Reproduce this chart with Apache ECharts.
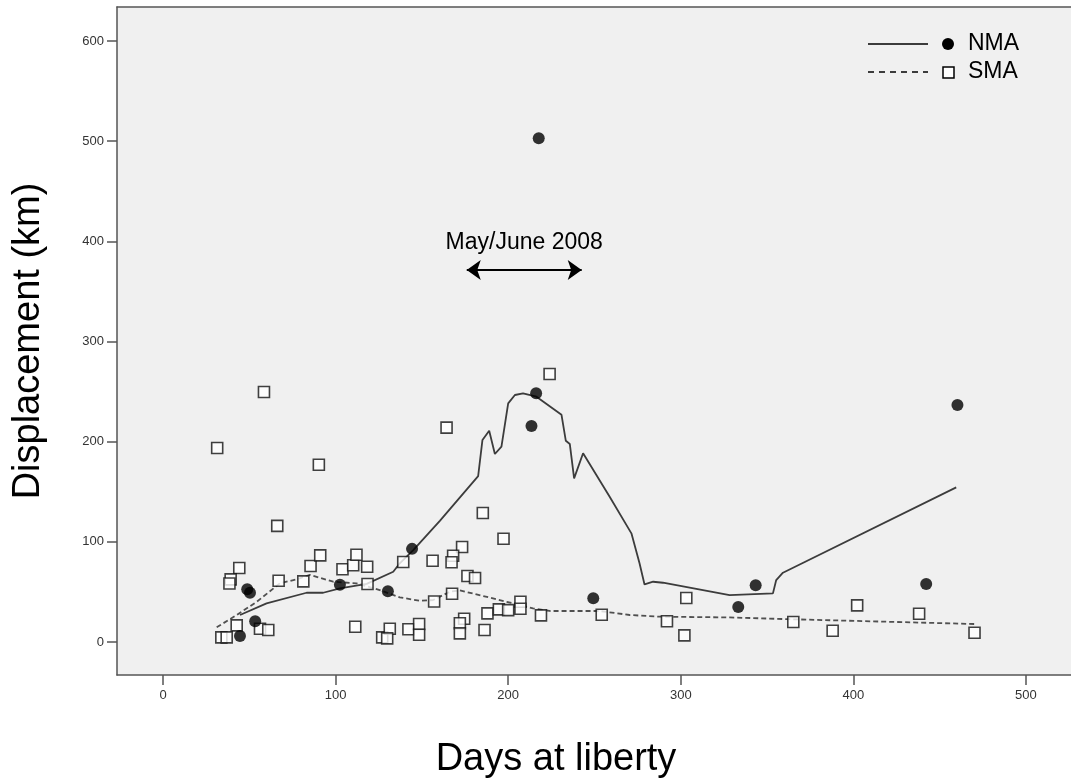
<!DOCTYPE html>
<html>
<head>
<meta charset="utf-8">
<script src="https://cdn.jsdelivr.net/npm/echarts@6/dist/echarts.min.js"></script>
<style>
html,body{margin:0;padding:0;background:#fff;}
#chart{width:1071px;height:778px;}
</style>
</head>
<body>
<div id="chart"></div>
<script>
// ---- data ----
var xTicks = [0, 100, 200, 300, 400, 500];
var yTicks = [0, 100, 200, 300, 400, 500, 600];

// NMA observations (filled circles)
var nmaX = [44.6, 48.8, 50.4, 53.4, 102.5, 130.3, 144.3, 213.5, 216.2, 217.7, 249.3, 333.3, 343.4, 442.2, 460.3];
var nmaY = [6, 52.6, 49.2, 20.7, 57.2, 50.6, 93, 215.6, 248.3, 503, 43.7, 34.9, 56.6, 57.9, 236.6];

// SMA observations (open squares)
var smaX = [31.4, 58.5, 90.3, 66.2, 44.2, 39.2, 38.5, 67, 81.3, 85.5, 91.1, 104, 110.2, 112.1, 118.3, 118.5,
            139.2, 156.2, 157.1, 42.7, 33.8, 36.9, 56.2, 61, 111.4, 127, 131.4, 129.9, 142.2, 148.4, 148.4,
            164.3, 185.3, 197.3, 173.3, 168.1, 167.2, 176.4, 180.8, 167.5, 174.5, 172, 172, 186.3, 188,
            194.6, 200, 207.1, 207.1, 219, 254.2, 224, 303.2, 292, 302.1, 365.2, 388, 402.2, 438.1, 470.2];
var smaY = [193.7, 249.6, 177, 116, 73.9, 62.6, 58.5, 61.2, 60.6, 75.9, 86.5, 72.6, 76.6, 87.2, 75.2, 57.9,
            79.9, 81.2, 40.5, 16.6, 4.7, 4.7, 13.3, 12, 15.3, 4.7, 13.3, 3.7, 12.7, 18, 7.3,
            214, 128.8, 103.1, 94.8, 86.2, 79.6, 65.9, 63.9, 48.2, 23.3, 18.7, 8.7, 12, 28.6,
            32.6, 31.9, 40.2, 33.3, 26.6, 27.3, 267.5, 43.9, 20.7, 6.7, 20, 11.3, 36.6, 28.3, 9.3];

// NMA smoothed fit (solid line)
var nmaFitX = [44.6, 60, 83.2, 92.8, 102.5, 118, 133.4, 137.2, 145, 160.4, 182.6, 185.1, 189, 192.3, 196.1,
               200, 203.9, 208.6, 216.4, 230.9, 233.4, 235.7, 238.2, 243.4, 258.8, 271.4, 276.1, 279,
               284, 289.7, 328.3, 353.4, 355.3, 359.2, 459.6];
var nmaFitY = [27, 38.6, 49.2, 49.2, 53.6, 58, 70.2, 78.6, 91.8, 121, 165.7, 201.7, 210.9, 187.7, 195,
               238.3, 246.6, 248.3, 244.9, 226.8, 200.9, 197.7, 163.4, 188.4, 145, 108.5, 78.6, 57.5,
               60.2, 59.2, 46.9, 48.6, 61.9, 69.2, 154.4];

// SMA smoothed fit (dashed line)
var smaFitX = [31.1, 42.7, 54.3, 67.7, 77.4, 85.1, 98.6, 112.1, 125.6, 137.2, 148.8, 156.5, 166.2, 172,
               195.1, 214.4, 224.1, 253, 270.4, 287.8, 328.3, 365, 470.2];
var smaFitY = [14.7, 27, 40.2, 58.6, 62.6, 67, 60.2, 58.6, 51.9, 44.6, 41.2, 41.9, 50.2, 51.6,
               41.9, 33.6, 31, 31, 27, 25.3, 24.6, 22.7, 18];

// annotation
var annotText = 'May/June 2008';
var annotX = [176, 242.6];
var annotY = 371.4;

function zip(a, b) { return a.map(function (v, i) { return [v, b[i]]; }); }

var chart = echarts.init(document.getElementById('chart'), null, {renderer: 'canvas'});
var FONT = 'Liberation Sans, Arial, sans-serif';
var NARROW = 'Liberation Sans Narrow, Arial Narrow, Liberation Sans, sans-serif';
var XMIN = -26.65, XMAX = 526.1, YMIN = -32.9, YMAX = 633.9;
var AX = {color: '#555555', width: 1.5};

chart.setOption({
  animation: false,
  backgroundColor: '#ffffff',
  grid: {
    left: 117, right: 0, top: 7, bottom: 103, outerBoundsMode: 'none', containLabel: false,
    show: true, backgroundColor: '#f0f0f0', borderWidth: 0
  },
  xAxis: [{
    type: 'value', min: XMIN, max: XMAX, position: 'bottom',
    name: 'Days at liberty', nameLocation: 'middle', nameGap: 66,
    nameTextStyle: {fontFamily: FONT, fontSize: 38, color: '#000', padding: [0, 76, 0, 0]},
    axisLine: {show: true, onZero: false, lineStyle: AX},
    axisTick: {show: true, customValues: xTicks, length: 10, lineStyle: AX},
    axisLabel: {customValues: xTicks, margin: 14, fontFamily: NARROW, fontSize: 13, color: '#333'},
    splitLine: {show: false}
  }, {
    type: 'value', min: XMIN, max: XMAX, position: 'top',
    axisLine: {show: true, onZero: false, lineStyle: AX},
    axisTick: {show: false}, axisLabel: {show: false}, splitLine: {show: false}
  }],
  yAxis: {
    type: 'value', min: YMIN, max: YMAX,
    name: 'Displacement (km)', nameLocation: 'middle', nameGap: 69, nameRotate: 90,
    nameTextStyle: {fontFamily: FONT, fontSize: 38, color: '#000'},
    axisLine: {show: true, onZero: false, lineStyle: AX},
    axisTick: {show: true, customValues: yTicks, length: 10, lineStyle: AX},
    axisLabel: {customValues: yTicks, margin: 13, fontFamily: NARROW, fontSize: 13, color: '#333'},
    splitLine: {show: false}
  },
  series: [
    {
      name: 'NMA fit', type: 'line', data: zip(nmaFitX, nmaFitY), showSymbol: false, symbol: 'none',
      lineStyle: {color: '#3c3c3c', width: 1.8}, z: 2, silent: true,
      markLine: {
        silent: true, symbol: ['arrow', 'arrow'], symbolSize: [15, 14],
        lineStyle: {color: '#000', width: 2, type: 'solid'},
        label: {show: true, position: 'insideMiddleTop', distance: 16, formatter: annotText,
                fontFamily: FONT, fontSize: 23, color: '#000'},
        emphasis: {disabled: true},
        data: [[{coord: [annotX[0], annotY]}, {coord: [annotX[1], annotY]}]]
      }
    },
    {
      name: 'SMA fit', type: 'line', data: zip(smaFitX, smaFitY), showSymbol: false, symbol: 'none',
      lineStyle: {color: '#505050', width: 1.8, type: [5, 3]}, z: 2, silent: true
    },
    {
      name: 'SMA', type: 'scatter', data: zip(smaX, smaY), symbol: 'rect', symbolSize: 11,
      itemStyle: {color: '#ffffff', borderColor: '#111', borderWidth: 1.6}, z: 3, silent: true
    },
    {
      name: 'NMA', type: 'scatter', data: zip(nmaX, nmaY), symbol: 'circle', symbolSize: 12,
      itemStyle: {color: '#000'}, z: 4, silent: true
    }
  ],
  graphic: [
    {type: 'line', shape: {x1: 868, y1: 44, x2: 928, y2: 44}, style: {stroke: '#000', lineWidth: 1.6}},
    {type: 'circle', shape: {cx: 948, cy: 44, r: 6}, style: {fill: '#000'}},
    {type: 'text', x: 968, y: 44, style: {text: 'NMA', font: '23px ' + FONT, fill: '#000', verticalAlign: 'middle'}},
    {type: 'line', shape: {x1: 868, y1: 72, x2: 928, y2: 72}, style: {stroke: '#000', lineWidth: 1.6, lineDash: [6, 5]}},
    {type: 'rect', shape: {x: 943, y: 67, width: 11, height: 11}, style: {fill: '#fff', stroke: '#000', lineWidth: 1.5}},
    {type: 'text', x: 968, y: 72, style: {text: 'SMA', font: '23px ' + FONT, fill: '#000', verticalAlign: 'middle'}}
  ]
});
</script>
</body>
</html>
